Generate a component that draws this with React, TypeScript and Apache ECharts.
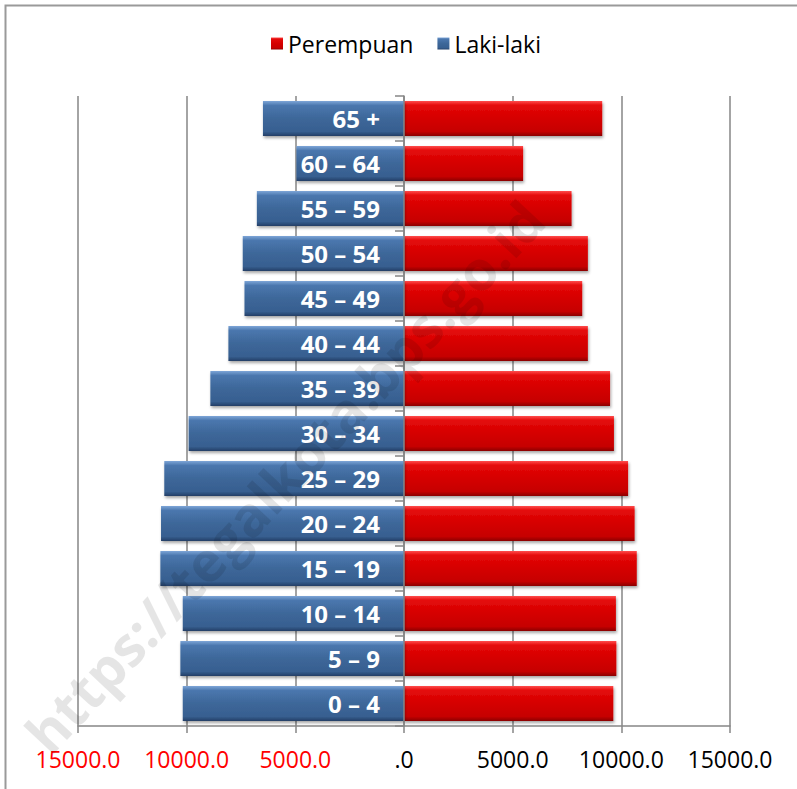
import React, { useEffect, useRef } from 'react';
import * as echarts from 'echarts';

const ageGroups = ['0 – 4', '5 – 9', '10 – 14', '15 – 19', '20 – 24', '25 – 29', '30 – 34', '35 – 39', '40 – 44', '45 – 49', '50 – 54', '55 – 59', '60 – 64', '65 +'];
const lakiLaki = [10180, 10290, 10180, 11210, 11180, 11030, 9910, 8910, 8080, 7340, 7420, 6770, 4950, 6490];
const perempuan = [9630, 9770, 9750, 10710, 10610, 10310, 9660, 9480, 8460, 8200, 8460, 7710, 5480, 9120];
const xTickValues = [-15000, -10000, -5000, 0, 5000, 10000, 15000];
const legendNames = ['Perempuan', 'Laki-laki'];
const watermark = 'https://tegalkota.bps.go.id';

const FONT = "'Open Sans', 'Noto Sans', sans-serif";

export default function App() {
  const ref = useRef<HTMLDivElement>(null);
  useEffect(() => {
    if (!ref.current) return;
    const chart = echarts.init(ref.current, undefined, { renderer: 'svg' });
    const blue = new echarts.graphic.LinearGradient(0, 0, 0, 1, [
      { offset: 0, color: '#7EA6D8' },
      { offset: 0.13, color: '#4B77AE' },
      { offset: 0.5, color: '#3D6799' },
      { offset: 0.87, color: '#375F90' },
      { offset: 1, color: '#243F66' },
    ]);
    const red = new echarts.graphic.LinearGradient(0, 0, 0, 1, [
      { offset: 0, color: '#FF4D4D' },
      { offset: 0.13, color: '#E40A0A' },
      { offset: 0.5, color: '#D50000' },
      { offset: 0.87, color: '#C60000' },
      { offset: 1, color: '#8A0000' },
    ]);
    const option: any = {
      animation: false,
      backgroundColor: '#ffffff',
      legend: {
        data: legendNames,
        top: 27,
        left: 266,
        itemWidth: 12,
        itemHeight: 12,
        itemGap: 24,
        icon: 'rect',
        textStyle: { fontFamily: FONT, fontSize: 23, color: '#000' },
      },
      grid: { left: 78, right: 67, top: 96, bottom: 63, containLabel: false },
      xAxis: {
        type: 'value',
        min: xTickValues[0],
        max: xTickValues[xTickValues.length - 1],
        interval: 5000,
        axisLine: { show: true, lineStyle: { color: '#868686', width: 1.5 } },
        axisTick: { show: true, length: 7, lineStyle: { color: '#868686', width: 1.5 } },
        splitLine: { show: true, lineStyle: { color: '#868686', width: 1.5 } },
        axisLabel: {
          margin: 21,
          fontFamily: FONT,
          fontSize: 23,
          color: (v: any) => (Number(v) < 0 ? '#FF0000' : '#000000'),
          formatter: (v: number) => {
            if (v === 0) return '.0';
            return Math.abs(v).toFixed(1);
          },
        },
      },
      yAxis: {
        type: 'category',
        data: ageGroups,
        z: 5,
        axisLine: { show: true, onZero: true, lineStyle: { color: '#868686', width: 1.5 } },
        axisTick: { show: true, length: 9, lineStyle: { color: '#868686', width: 1.5 } },
        axisLabel: { show: false },
        splitLine: { show: false },
      },
      series: [
        {
          name: 'Perempuan',
          type: 'bar',
          stack: 'pop',
          data: perempuan,
          barCategoryGap: '22%',
          itemStyle: {
            color: red,
            shadowBlur: 3,
            shadowColor: 'rgba(0,0,0,0.35)',
            shadowOffsetY: 2,
            shadowOffsetX: 1,
          },
        },
        {
          name: 'Laki-laki',
          type: 'bar',
          stack: 'pop',
          data: lakiLaki.map((v) => -v),
          barCategoryGap: '22%',
          itemStyle: {
            color: blue,
            shadowBlur: 3,
            shadowColor: 'rgba(0,0,0,0.35)',
            shadowOffsetY: 2,
            shadowOffsetX: 1,
          },
          label: {
            show: true,
            position: 'insideRight',
            distance: 24,
            formatter: (p: any) => p.name,
            color: '#ffffff',
            fontFamily: FONT,
            fontWeight: 'bold',
            fontSize: 24,
          },
        },
      ],
      graphic: [
        {
          type: 'rect',
          left: 3,
          top: 3,
          shape: { x: 0, y: 0, width: 820, height: 820 },
          style: { fill: 'none', stroke: '#9A9A9A', lineWidth: 2 },
          silent: true,
          z: 0,
        },
        {
          type: 'text',
          x: 284,
          y: 476,
          rotation: 0.82,
          z: 100,
          silent: true,
          style: {
            text: watermark,
            fill: 'rgba(0,0,0,0.10)',
            font: `bold 55px ${FONT}`,
            textAlign: 'center',
            textVerticalAlign: 'middle',
          },
        },
      ],
    };
    chart.setOption(option);
    return () => chart.dispose();
  }, []);
  return (
    <div
      ref={ref}
      style={{ position: 'fixed', left: 0, top: 0, width: 797, height: 789 }}
    />
  );
}
